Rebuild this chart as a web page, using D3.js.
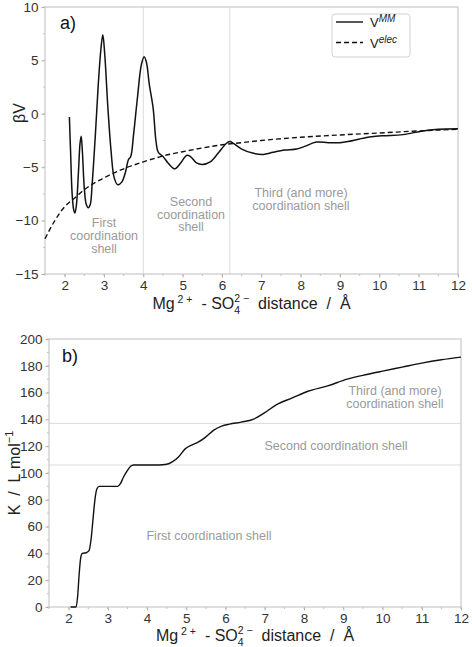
<!DOCTYPE html>
<html><head><meta charset="utf-8">
<script src="https://cdn.jsdelivr.net/npm/d3@7"></script>
<style>
body{margin:0;background:#fff;}
svg{font-family:"Liberation Sans",Arial,Helvetica,sans-serif;}
</style></head>
<body>
<svg id="chart" width="472" height="647"></svg>
<script>
// ---------- DATA ----------
const mmX = [2.12,2.15,2.19,2.23,2.26,2.30,2.35,2.39,2.42,2.45,2.50,2.55,2.60,2.65,2.70,2.78,2.85,2.92,2.97,3.02,3.10,3.18,3.26,3.35,3.45,3.55,3.62,3.68,3.75,3.85,3.95,4.02,4.08,4.15,4.25,4.32,4.38,4.50,4.65,4.80,4.95,5.10,5.20,5.35,5.50,5.70,5.90,6.10,6.20,6.30,6.50,6.80,7.05,7.30,7.60,7.90,8.10,8.40,8.70,9.00,9.20,9.50,9.80,10.10,10.60,11.10,11.50,12.00];
const mmY = [-0.3,-3.5,-7.5,-9.0,-9.3,-8.5,-5.5,-2.8,-2.1,-3.5,-7.0,-8.5,-8.8,-8.5,-6.5,-2.0,2.5,6.0,7.4,5.5,0.5,-3.5,-6.0,-6.65,-6.4,-5.4,-4.3,-4.0,-2.0,1.5,4.6,5.35,4.8,2.8,0.5,-2.5,-3.6,-4.0,-4.7,-5.15,-4.6,-3.9,-4.0,-4.6,-4.75,-4.5,-3.7,-2.8,-2.6,-2.8,-3.3,-3.7,-3.8,-3.6,-3.4,-3.3,-3.05,-2.65,-2.7,-2.7,-2.6,-2.35,-2.15,-2.05,-1.95,-1.6,-1.45,-1.4];
const elecX = [1.5,1.75,2.0,2.25,2.5,3.0,3.5,4.0,4.5,5.0,5.5,6.0,6.5,7.0,8.0,9.0,10.0,11.0,12.0];
const elecY = [-11.7,-10.0,-8.7,-7.9,-7.1,-6.0,-5.15,-4.5,-3.95,-3.55,-3.2,-2.9,-2.7,-2.5,-2.2,-1.98,-1.8,-1.6,-1.45];
const kX = [2.05,2.19,2.23,2.27,2.31,2.35,2.45,2.52,2.57,2.62,2.67,2.72,2.78,3.0,3.25,3.32,3.4,3.5,3.58,3.65,3.8,4.0,4.3,4.5,4.65,4.8,4.97,5.15,5.3,5.5,5.7,5.9,6.1,6.4,6.7,7.0,7.3,7.7,8.1,8.6,9.1,9.6,10.0,10.5,11.0,11.5,12.0];
const kY = [0,0,8,25,37,40,40.5,42,50,65,80,88,90,90,90,92,97,102,105,106,106,106,106,106.5,108.5,112,118,121,123,127,132,135,136.5,138,140,145,151,156,161,165,170,173.5,176,179,182,184.5,186.5];
const xTicks = [2,3,4,5,6,7,8,9,10,11,12];
const aYTicks = [-15,-10,-5,0,5,10];
const bYTicks = [0,20,40,60,80,100,120,140,160,180,200];
const aShellBounds = [4.0, 6.2];      // vertical separators, panel a
const bShellBounds = [106, 137];      // horizontal separators, panel b

const svg = d3.select("#chart");
const spineCol = "#c8c8c8", tickCol = "#b0b0b0", txtCol = "#333", annCol = "#9a9a9a";
const NB = "\u00A0";

function axesFrame(g, x, y, xt, yt, xMinorStep, yMinorStep){
  const [x0,x1] = x.range(), [y0,y1] = y.range();
  const xd = x.domain(), yd = y.domain();
  const xm = d3.range(Math.ceil(xd[0]/xMinorStep)*xMinorStep, xd[1]+1e-9, xMinorStep);
  const ym = d3.range(Math.ceil(yd[0]/yMinorStep)*yMinorStep, yd[1]+1e-9, yMinorStep);
  g.selectAll(".xm").data(xm).join("line").attr("x1",d=>x(d)).attr("x2",d=>x(d)).attr("y1",y0).attr("y2",y0+2).attr("stroke",tickCol).attr("stroke-width",0.8);
  g.selectAll(".ym").data(ym).join("line").attr("y1",d=>y(d)).attr("y2",d=>y(d)).attr("x1",x0-2).attr("x2",x0).attr("stroke",tickCol).attr("stroke-width",0.8);
  const ax = g.append("g").attr("transform",`translate(0,${y0})`)
    .call(d3.axisBottom(x).tickValues(xt).tickSize(3.5).tickPadding(3).tickFormat(d3.format("d")));
  const ay = g.append("g").attr("transform",`translate(${x0},0)`)
    .call(d3.axisLeft(y).tickValues(yt).tickSize(3.5).tickPadding(3).tickFormat(d3.format("d")));
  [ax,ay].forEach(a=>{
    a.select(".domain").remove();
    a.selectAll(".tick line").attr("stroke",tickCol);
    a.selectAll(".tick text").attr("fill",txtCol).style("font-size","13.5px").style("font-family","'Liberation Sans',Arial,sans-serif");
  });
  g.append("rect").attr("x",x0).attr("y",y1).attr("width",x1-x0).attr("height",y0-y1)
    .attr("fill","none").attr("stroke",spineCol).attr("stroke-width",1.2);
}

function richText(g, parts, cx, cy, rotate){
  const grp = g.append("g");
  let xcur = 0, lastW = 0;
  parts.forEach(p=>{
    const t = grp.append("text").attr("y", p.dy||0).style("font-size",(p.size||16)+"px")
      .attr("fill","#222").style("font-style",p.italic?"italic":"normal").text(p.t);
    let xs = p.stack ? xcur - lastW : xcur;
    t.attr("x", xs);
    const w = t.node().getComputedTextLength();
    if(p.stack){ xcur = Math.max(xcur, xs + w); }
    else { xcur = xs + w; lastW = w; }
  });
  const total = xcur;
  grp.attr("transform", rotate ? `translate(${cx},${cy}) rotate(-90) translate(${-total/2},0)` : `translate(${cx - total/2},${cy})`);
  return grp;
}

function xLabel(g, cx, cy){
  richText(g, [
    {t:"Mg"}, {t:NB+"2"+NB+"+", size:10.5, dy:-6}, {t:NB+NB+"-"+NB+"SO"},
    {t:"2"+NB+"−", size:10.5, dy:-7}, {t:"4", size:10.5, dy:5, stack:true},
    {t:NB+NB+"distance"+NB+NB+"/"+NB+NB+"Å"}
  ], cx, cy);
}

// ---------- PANEL A ----------
const xa = d3.scaleLinear().domain([1.5,12]).range([45,458]);
const ya = d3.scaleLinear().domain([-15,10]).range([274,7]);
const ga = svg.append("g");
ga.selectAll(".vs").data(aShellBounds).join("line")
  .attr("x1",d=>xa(d)).attr("x2",d=>xa(d)).attr("y1",ya(10)).attr("y2",ya(-15))
  .attr("stroke","#dcdcdc").attr("stroke-width",1);
axesFrame(ga, xa, ya, xTicks, aYTicks, 0.5, 2.5);

const mmData = mmX.map((d,i)=>[d,mmY[i]]);
const elecData = elecX.map((d,i)=>[d,elecY[i]]);
ga.append("path").datum(elecData).attr("fill","none").attr("stroke","#111").attr("stroke-width",1.4)
  .attr("stroke-dasharray","5,3")
  .attr("d", d3.line().x(d=>xa(d[0])).y(d=>ya(d[1])).curve(d3.curveMonotoneX));
ga.append("path").datum(mmData).attr("fill","none").attr("stroke","#111").attr("stroke-width",1.5)
  .attr("d", d3.line().x(d=>xa(d[0])).y(d=>ya(d[1])).curve(d3.curveCatmullRom.alpha(0.5)));

ga.append("text").attr("x",60).attr("y",29).style("font-size","18px").attr("fill","#111").text("a)");

function annot(g, lines, cx, y0, lh){
  const t = g.append("text").attr("text-anchor","middle").attr("fill",annCol).style("font-size","12.5px");
  lines.forEach((l,i)=>t.append("tspan").attr("x",cx).attr("y",y0+i*lh).text(l));
}
annot(ga, ["First","coordination","shell"], 104, 227, 13);
annot(ga, ["Second","coordination","shell"], 191, 206, 12.5);
annot(ga, ["Third (and more)","coordination shell"], 301, 197, 13);

// legend
const lg = ga.append("g");
lg.append("rect").attr("x",332).attr("y",14).attr("width",78).attr("height",43).attr("rx",3)
  .attr("fill","#fff").attr("stroke","#d0d0d0");
[["", "MM"],["5,3","elec"]].forEach((e,i)=>{
  const yy = 22 + i*20.5;
  lg.append("line").attr("x1",336).attr("x2",363).attr("y1",yy).attr("y2",yy)
    .attr("stroke","#111").attr("stroke-width",1.4).attr("stroke-dasharray", e[0]||null);
  const t = lg.append("text").attr("x",370).attr("y",yy+5).attr("fill","#222").style("font-size","13px");
  t.append("tspan").text("V");
  t.append("tspan").attr("dy",-5).attr("fill","#222").style("font-size","10px").style("font-style","italic").text(e[1]);
});

xLabel(ga, 251.5, 309);
ga.append("text").attr("transform","translate(25,113) rotate(-90)").attr("text-anchor","middle")
  .attr("fill","#222").style("font-size","16px").text("βV");

// ---------- PANEL B ----------
const xb = d3.scaleLinear().domain([1.5,12]).range([49,461]);
const yb = d3.scaleLinear().domain([0,200]).range([607,339]);
const gb = svg.append("g");
gb.selectAll(".hs").data(bShellBounds).join("line")
  .attr("x1",xb(1.5)).attr("x2",xb(12)).attr("y1",d=>yb(d)).attr("y2",d=>yb(d))
  .attr("stroke","#dcdcdc").attr("stroke-width",1);
axesFrame(gb, xb, yb, xTicks, bYTicks, 0.5, 10);
const kData = kX.map((d,i)=>[d,kY[i]]);
gb.append("path").datum(kData).attr("fill","none").attr("stroke","#111").attr("stroke-width",1.4)
  .attr("d", d3.line().x(d=>xb(d[0])).y(d=>yb(d[1])).curve(d3.curveMonotoneX));
gb.append("text").attr("x",62).attr("y",362).style("font-size","18px").attr("fill","#111").text("b)");
annot(gb, ["First coordination shell"], 209, 540, 13);
annot(gb, ["Second coordination shell"], 336, 450, 13);
annot(gb, ["Third (and more)","coordination shell"], 395, 395, 13);
xLabel(gb, 255, 641);
richText(gb, [{t:"K"+NB+NB+"/"+NB+NB+"L"+NB+"mol"},{t:"−1", size:11, dy:-7}], 20, 473, true);
</script>
</body></html>
